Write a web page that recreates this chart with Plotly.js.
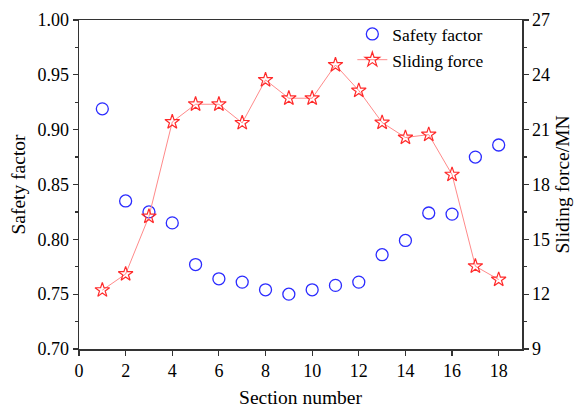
<!DOCTYPE html>
<html><head><meta charset="utf-8">
<script src="https://cdn.plot.ly/plotly-3.0.1.min.js"></script>
<style>html,body{margin:0;padding:0;background:#fff}#chart{width:575px;height:410px}</style>
</head><body><div id="chart"></div>
<script>
const sections = [1,2,3,4,5,6,7,8,9,10,11,12,13,14,15,16,17,18];
const safetyFactor = [0.919,0.835,0.825,0.815,0.777,0.764,0.761,0.754,0.750,0.754,0.758,0.761,0.786,0.799,0.824,0.823,0.875,0.886];
const slidingForce = [12.22,13.10,16.25,21.42,22.39,22.39,21.37,23.72,22.72,22.72,24.54,23.14,21.39,20.57,20.73,18.54,13.53,12.80];
const leftTicks = [0.70,0.75,0.80,0.85,0.90,0.95,1.00];
const rightTicks = [9,12,15,18,21,24,27];
const xTicks = [0,2,4,6,8,10,12,14,16,18];

const fam = 'Liberation Serif, Times New Roman, serif';
const tickFont = {family:fam, size:18, color:'#000'};
const titleFont = {family:fam, size:19.5, color:'#000'};
const legFont = {family:fam, size:17.5, color:'#000'};
const axisColor = '#333';

const traces = [
  {x:sections, y:safetyFactor, name:'Safety factor', type:'scatter', mode:'markers',
   marker:{symbol:'circle-open', size:12, color:'#2b2bff', line:{width:1.3}}, yaxis:'y'},
  {x:sections, y:slidingForce, name:'Sliding force', type:'scatter', mode:'lines+markers',
   line:{color:'#ff8a8a', width:1},
   marker:{symbol:'star-open', size:11, color:'#ff2a2a', line:{width:1.2}}, yaxis:'y2'}
];

const layout = {
  width:575, height:410,
  margin:{l:79, r:53, t:20, b:61},
  paper_bgcolor:'#fff', plot_bgcolor:'#fff',
  font:tickFont,
  showlegend:true,
  legend:{x:0.617, y:1.012, xanchor:'left', yanchor:'top', bgcolor:'rgba(0,0,0,0)', font:legFont, tracegroupgap:0},
  xaxis:{range:[0,19], tickvals:xTicks, ticktext:xTicks.map(String), ticks:'outside', ticklen:5, tickwidth:1.2, tickcolor:axisColor,
    tickfont:tickFont,
    showline:true, linecolor:axisColor, linewidth:1.5, mirror:true, showgrid:false, zeroline:false,
    title:{text:'Section number', font:titleFont, standoff:10}},
  yaxis:{range:[0.70,1.00], tickvals:leftTicks, ticktext:leftTicks.map(v=>v.toFixed(2)), ticks:'outside', ticklen:5, tickwidth:1.2, tickcolor:axisColor,
    tickfont:tickFont,
    minor:{dtick:0.025, ticks:'outside', ticklen:3, tickcolor:axisColor},
    showline:true, linecolor:axisColor, linewidth:1.5, showgrid:false, zeroline:false,
    title:{text:'Safety factor', font:titleFont, standoff:6}},
  yaxis2:{range:[9,27], overlaying:'y', side:'right', tickvals:rightTicks, ticktext:rightTicks.map(String), ticks:'outside', ticklen:5, tickwidth:1.2, tickcolor:axisColor,
    tickfont:tickFont,
    minor:{dtick:1.5, ticks:'outside', ticklen:3, tickcolor:axisColor},
    showline:true, linecolor:axisColor, linewidth:1.5, showgrid:false, zeroline:false,
    title:{text:'Sliding force/MN', font:titleFont, standoff:6}}
};
Plotly.newPlot('chart', traces, layout, {displayModeBar:false, staticPlot:true});
</script></body></html>
